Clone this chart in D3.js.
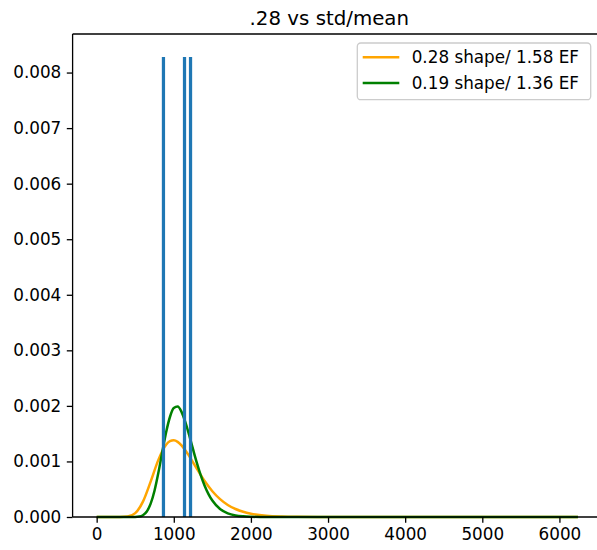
<!DOCTYPE html>
<html>
<head>
<meta charset="utf-8">
<script src="https://cdn.jsdelivr.net/npm/d3@7"></script>
<style>
  body { margin: 0; background: #fff; }
  svg { display: block; font-family: "DejaVu Sans", sans-serif; }
</style>
</head>
<body>
<svg id="chart" width="597" height="550"></svg>
<script>
// histogram bins (density)
const binLeft = [845, 1118, 1196];
const binWidth = 42;
const binDensity = [0.00828, 0.00828, 0.00828];

// lognormal fits
const orangeX = [0, 300, 400, 500, 600, 700, 800, 900, 950, 1000, 1050, 1100, 1200, 1300, 1400, 1500, 1600, 1700, 1800, 1900, 2000, 2200, 2400, 2600, 3000, 6240];
const orangeY = [0, 0.0000002, 0.0000072, 0.000069, 0.000276, 0.000636, 0.001028, 0.0013, 0.001364, 0.00138, 0.001353, 0.00129, 0.001096, 0.000867, 0.000648, 0.000464, 0.000322, 0.000217, 0.000144, 0.0000935, 0.00006, 0.0000242, 0.0000095, 0.0000037, 0, 0];
const greenX = [0, 500, 550, 600, 650, 700, 750, 800, 850, 900, 950, 1000, 1050, 1100, 1150, 1200, 1250, 1300, 1350, 1400, 1450, 1500, 1600, 1700, 1800, 1900, 2000, 2200, 6240];
const greenY = [0, 0.0000013, 0.0000079, 0.0000325, 0.0000996, 0.00024, 0.000473, 0.000795, 0.001164, 0.001521, 0.0018, 0.00196, 0.001987, 0.001893, 0.001708, 0.001471, 0.001216, 0.00097, 0.000749, 0.000563, 0.000413, 0.000296, 0.000144, 0.000066, 0.0000287, 0.000012, 0.0000049, 0, 0];

const seriesLabels = ["0.28 shape/ 1.58 EF", "0.19 shape/ 1.36 EF"];
const xTicks = [0, 1000, 2000, 3000, 4000, 5000, 6000];
const yTicks = [0, 0.001, 0.002, 0.003, 0.004, 0.005, 0.006, 0.007, 0.008];

const svg = d3.select("#chart");
const margin = {left: 72.6, top: 34, right: 602, bottom: 517};
const fs = 16.8;

// matplotlib style 5% margins
const xmin = 0, xmax = 6240;
const xpad = (xmax - xmin) * 0.05;
const x = d3.scaleLinear().domain([xmin - xpad, xmax + xpad]).range([margin.left, margin.right]);
const ymax = d3.max(binDensity) * 1.05;
const y = d3.scaleLinear().domain([0, ymax]).range([margin.bottom, margin.top]);

const line = d3.line()
    .x(d => x(d[0]))
    .y(d => y(d[1]))
    .curve(d3.curveMonotoneX);

svg.append("path")
    .datum(d3.zip(orangeX, orangeY))
    .attr("d", line)
    .attr("fill", "none")
    .attr("stroke", "orange")
    .attr("stroke-width", 2.5);

svg.append("path")
    .datum(d3.zip(greenX, greenY))
    .attr("d", line)
    .attr("fill", "none")
    .attr("stroke", "green")
    .attr("stroke-width", 2.5);

svg.selectAll(".bar")
    .data(d3.zip(binLeft, binDensity))
    .enter().append("rect")
    .attr("class", "bar")
    .attr("x", d => x(d[0]))
    .attr("y", d => y(d[1]))
    .attr("width", d => x(d[0] + binWidth) - x(d[0]))
    .attr("height", d => y(0) - y(d[1]))
    .attr("fill", "#1f77b4");

// spines
const spine = svg.append("g").attr("stroke", "#000").attr("stroke-width", 1.3);
spine.append("line").attr("x1", margin.left).attr("x2", margin.left).attr("y1", margin.top).attr("y2", margin.bottom);
spine.append("line").attr("x1", margin.left).attr("x2", margin.right).attr("y1", margin.top).attr("y2", margin.top);
spine.append("line").attr("x1", margin.left).attr("x2", margin.right).attr("y1", margin.bottom).attr("y2", margin.bottom);

// axes
const xAxis = d3.axisBottom(x).tickValues(xTicks).tickSize(5.8).tickPadding(5).tickFormat(d3.format("d"));
const gx = svg.append("g").attr("transform", `translate(0,${margin.bottom})`).call(xAxis);
const yAxis = d3.axisLeft(y).tickValues(yTicks).tickSize(5.8).tickPadding(5.5).tickFormat(d3.format(".3f"));
const gy = svg.append("g").attr("transform", `translate(${margin.left},0)`).call(yAxis);
[gx, gy].forEach(g => {
    g.select(".domain").remove();
    g.selectAll(".tick line").attr("stroke", "#000").attr("stroke-width", 1.3);
    g.selectAll("text").attr("fill", "#000").style("font-size", fs + "px").style("font-family", "DejaVu Sans");
});

// title
svg.append("text")
    .attr("x", (margin.left + margin.right) / 2 - 8)
    .attr("y", 25)
    .attr("text-anchor", "middle")
    .style("font-size", "19.8px")
    .text(".28 vs std/mean");

// legend
const lg = svg.append("g");
lg.append("rect")
    .attr("x", 357.3).attr("y", 43)
    .attr("width", 233.4).attr("height", 56.7)
    .attr("rx", 3.5)
    .attr("fill", "#fff").attr("fill-opacity", 0.8)
    .attr("stroke", "#ccc").attr("stroke-width", 1.3);
const legendColors = ["orange", "green"];
seriesLabels.forEach((s, i) => {
    const cy = 57.3 + i * 25.7;
    lg.append("line")
        .attr("x1", 362.7).attr("x2", 399.3)
        .attr("y1", cy).attr("y2", cy)
        .attr("stroke", legendColors[i]).attr("stroke-width", 2.5);
    lg.append("text")
        .attr("x", 411.7).attr("y", cy)
        .attr("dy", "0.36em")
        .style("font-size", fs + "px")
        .text(s);
});
</script>
</body>
</html>
